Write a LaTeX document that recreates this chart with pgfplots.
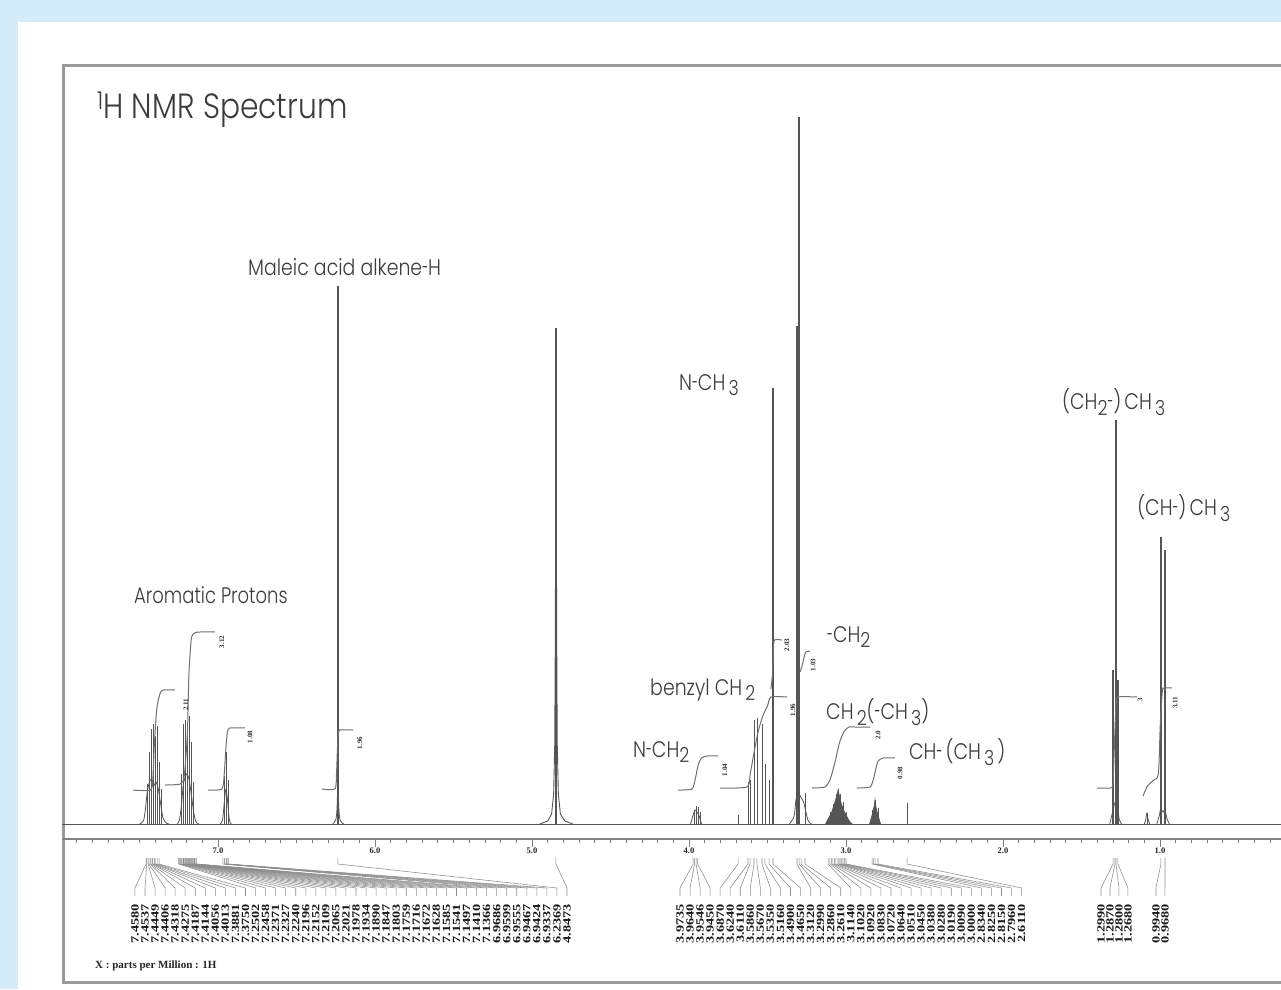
\documentclass[border=0pt]{standalone}
\usepackage{pgfplots}
\pgfplotsset{compat=1.18}
\usepackage{fontspec}
\setmainfont{Poppins Light}
\newfontfamily\pickfont{Liberation Serif}
\definecolor{bgblue}{HTML}{D3ECF8}
\definecolor{ink}{HTML}{3C3C3C}
\definecolor{trace}{HTML}{555555}
\definecolor{intg}{HTML}{707070}
\definecolor{fan}{HTML}{8C8C8C}
\definecolor{framegray}{HTML}{9A9A9A}
\newcommand\sub[1]{\raisebox{-0.42ex}{\scalebox{0.92}{#1}}}
\newcommand\hy{\scalebox{0.6}[1]{-}}
\newcommand\pk[1]{\scalebox{1.3}[1]{#1}}
\newcommand\lab[1]{\scalebox{0.84}[1]{#1}}
\tikzset{
  lbl/.style={anchor=west, text=ink, font=\fontsize{22.5}{22.5}\selectfont, inner sep=0pt},
  intlbl/.style={rotate=90, text=black!80, font=\pickfont\bfseries\fontsize{7}{7}\selectfont, inner sep=0pt},
  picklbl/.style={rotate=90, anchor=east, text=black!90, font=\pickfont\bfseries\fontsize{11}{11}\selectfont, inner sep=0pt},
  fanline/.style={fan, line width=0.55pt},
}
\begin{document}
\begin{tikzpicture}
% page: background, white panel and the spectrum frame
\useasboundingbox (-62pt,-5pt) rectangle (1219pt,984pt);
\fill[bgblue] (-62pt,-5pt) rectangle (1219pt,984pt);
\fill[white] (-44pt,-5pt) rectangle (1219pt,962pt);
\draw[framegray, line width=3pt] (1230pt,918pt) -- (2pt,918pt) -- (2pt,2pt) -- (1230pt,2pt);

% ppm ruler
\begin{axis}[at={(0,145pt)}, anchor=south west, scale only axis,
  width=1219pt, height=10pt, xmin=0.2293, xmax=7.9936, ymin=0, ymax=1,
  x dir=reverse, axis x line=bottom, axis y line=none,
  axis line style={-, draw=framegray!85!black, line width=2.4pt},
  xtick={1,2,3,4,5,6,7}, xticklabels={1.0,2.0,3.0,4.0,5.0,6.0,7.0},
  minor xtick={0.3,0.4,...,7.95},
  tick align=outside, major tick length=8pt, minor tick length=3.5pt,
  tick style={draw=gray, line width=0.7pt},
  xticklabel style={font=\pickfont\bfseries\fontsize{8.5}{8.5}\selectfont, text=black!85, inner sep=1pt}]
\addplot[draw=none] coordinates {(1,0)};
\end{axis}

\begin{axis}[at={(0,0)}, anchor=south west, scale only axis,
  width=1219pt, height=918pt, xmin=0.2293, xmax=7.9936, ymin=-160, ymax=758,
  x dir=reverse, axis lines=none, clip=false]

% baseline
\addplot[trace, line width=0.9pt] coordinates {(7.9936,0) (0.2293,0)};

% strong resonance lines: position (ppm) and height
\addplot[trace, line width=1.2pt, ycomb] table {
ppm h
6.236 538
4.847 496
3.465 436
3.312 498
3.299 707
1.299 154
1.280 404
1.268 144
0.994 287
0.968 274
};
% weak resonance lines
\addplot[trace, line width=0.75pt, ycomb] table {
ppm h
7.452 40
7.439 72
7.427 95
7.414 100
7.401 88
7.389 98
7.376 62
7.363 35
7.236 50
7.223 100
7.210 104
7.197 92
7.185 108
7.172 82
7.159 42
6.962 48
6.949 72
6.936 44
3.968 14
3.955 18
3.943 17
3.930 12
3.688 9
3.624 42
3.611 44
3.586 104
3.567 106
3.535 100
3.516 60
3.490 44
3.261 31
3.102 12
3.083 20
3.064 30
3.051 35
3.038 30
3.019 22
3.000 12
2.834 14
2.815 24
2.796 16
2.611 21
1.083 11
};

% line shapes at the base of the multiplets
\addplot[trace, line width=0.8pt, smooth, tension=0.5] coordinates {(7.50,0)(7.475,3)(7.462,15)(7.452,30)(7.44,40)(7.425,45)(7.41,38)(7.395,42)(7.38,35)(7.365,20)(7.35,6)(7.33,1)(7.31,0)};
\addplot[trace, line width=0.8pt, smooth, tension=0.5] coordinates {(7.26,0)(7.245,4)(7.232,20)(7.22,40)(7.20,50)(7.185,45)(7.17,30)(7.155,12)(7.14,2)(7.12,0)};
\addplot[trace, line width=0.8pt, smooth, tension=0.5] coordinates {(6.985,0)(6.97,5)(6.958,25)(6.949,35)(6.94,25)(6.928,5)(6.915,0)};
\addplot[trace, line width=0.8pt, smooth, tension=0.5] coordinates {(6.27,0)(6.25,4)(6.242,15)(6.236,40)(6.23,15)(6.222,4)(6.20,0)};
\addplot[trace, line width=0.9pt] coordinates {(4.95,0)(4.90,3)(4.875,10)(4.862,30)(4.855,80)(4.851,200)(4.847,496)(4.843,200)(4.839,80)(4.832,30)(4.819,10)(4.79,3)(4.74,0)};
\addplot[trace, line width=0.8pt, smooth, tension=0.5] coordinates {(3.99,0)(3.975,8)(3.962,14)(3.95,12)(3.935,8)(3.92,0)};
\addplot[trace, line width=0.8pt, smooth, tension=0.5] coordinates {(3.36,0)(3.33,8)(3.318,25)(3.30,30)(3.285,26)(3.27,22)(3.255,12)(3.24,3)(3.22,0)};
\addplot[trace, fill=trace, line width=0.8pt] coordinates {(3.13,0)(3.11,6)(3.09,12)(3.07,22)(3.055,30)(3.05,34)(3.045,30)(3.03,20)(3.01,12)(2.99,6)(2.975,2)(2.96,0)};
\addplot[trace, fill=trace, line width=0.8pt] coordinates {(2.85,0)(2.835,8)(2.82,18)(2.815,24)(2.808,16)(2.795,8)(2.78,0)};
\addplot[trace, line width=0.8pt, smooth, tension=0.5] coordinates {(1.32,0)(1.305,10)(1.29,20)(1.28,22)(1.27,18)(1.26,5)(1.245,0)};
\addplot[trace, line width=0.8pt, smooth, tension=0.5] coordinates {(1.10,0)(1.09,5)(1.083,11)(1.076,5)(1.065,0)};
\addplot[trace, line width=0.8pt, smooth, tension=0.5] coordinates {(1.02,0)(1.005,8)(0.995,15)(0.98,12)(0.968,14)(0.955,5)(0.94,0)};

% integral curves
\addplot[intg, line width=1pt, smooth, tension=0.4] coordinates {(7.541,34)(7.43,34)(7.415,45)(7.405,80)(7.39,115)(7.37,130)(7.35,134)(7.274,134)};
\addplot[intg, line width=1pt, smooth, tension=0.4] coordinates {(7.338,39)(7.24,40)(7.215,48)(7.195,90)(7.185,150)(7.17,185)(7.15,191)(7.115,192)(7.019,192)};
\addplot[intg, line width=1pt, smooth, tension=0.4] coordinates {(7.064,34)(6.975,35)(6.96,50)(6.95,75)(6.94,92)(6.924,96)(6.828,96)};
\addplot[intg, line width=1pt, smooth, tension=0.4] coordinates {(6.338,35)(6.255,35)(6.245,50)(6.238,80)(6.23,93)(6.215,94)(6.140,94)};
\addplot[intg, line width=1pt, smooth, tension=0.4] coordinates {(4.070,34)(3.981,35)(3.96,45)(3.94,60)(3.92,66)(3.885,68)(3.815,68)};
\addplot[intg, line width=1pt, smooth, tension=0.4] coordinates {(3.803,36)(3.631,37)(3.61,50)(3.585,72)(3.56,92)(3.53,108)(3.50,118)(3.478,127)(3.376,127)};
\addplot[intg, line width=1pt, smooth, tension=0.4] coordinates {(3.478,135)(3.468,150)(3.462,175)(3.455,184)(3.408,184)};
\addplot[intg, line width=1pt, smooth, tension=0.4] coordinates {(3.293,152)(3.28,158)(3.265,168)(3.255,172)(3.229,173)};
\addplot[intg, line width=1pt, smooth, tension=0.4] coordinates {(3.217,36)(3.134,37)(3.10,45)(3.07,62)(3.04,82)(3.01,93)(2.98,97)(2.943,97)(2.847,97)};
\addplot[intg, line width=1pt, smooth, tension=0.4] coordinates {(2.930,36)(2.847,37)(2.825,45)(2.81,55)(2.795,63)(2.764,66)(2.688,66)};
\addplot[intg, line width=1pt, smooth, tension=0.4] coordinates {(1.401,36)(1.318,36)(1.30,40)(1.29,80)(1.28,120)(1.268,127)(1.146,127)};
\addplot[intg, line width=1pt, smooth, tension=0.4] coordinates {(1.108,28)(1.08,38)(1.04,44)(1.01,50)(0.998,100)(0.985,133)(0.975,136)(0.924,136)};

% integral values
\node[intlbl] at (axis cs:7.204,119) {2.11};
\node[intlbl] at (axis cs:6.975,182) {3.12};
\node[intlbl] at (axis cs:6.796,87) {1.08};
\node[intlbl] at (axis cs:6.096,81) {1.96};
\node[intlbl] at (axis cs:3.771,54) {1.04};
\node[intlbl] at (axis cs:3.338,114) {1.96};
\node[intlbl] at (axis cs:3.376,179) {2.03};
\node[intlbl] at (axis cs:3.210,159) {1.03};
\node[intlbl] at (axis cs:2.796,89) {2.0};
\node[intlbl] at (axis cs:2.656,51) {0.98};
\node[intlbl] at (axis cs:1.127,124) {3};
\node[intlbl] at (axis cs:0.904,121) {3.11};

% peak picking: leader lines and shift values
\foreach \v [count=\i from 0] in {7.4580,7.4537,7.4449,7.4406,7.4318,7.4275,7.4187,7.4144,7.4056,7.4013,7.3881,7.3750,7.2502,7.2458,7.2371,7.2327,7.2240,7.2196,7.2152,7.2109,7.2065,7.2021,7.1978,7.1934,7.1890,7.1847,7.1803,7.1759,7.1716,7.1672,7.1628,7.1585,7.1541,7.1497,7.1410,7.1366,6.9686,6.9599,6.9555,6.9467,6.9424,6.9337,6.2369,4.8473}{%
  \pgfmathsetmacro\c{7.5287-0.0640*\i}%
  \edef\tmp{\noexpand\draw[fanline] (axis cs:\v,-34) -- (axis cs:\v,-40) -- (axis cs:\c,-64) -- (axis cs:\c,-72);
    \noexpand\node[picklbl] at (axis cs:\c,-80) {\noexpand\pk{\v}};}%
  \tmp}
\foreach \v [count=\i from 0] in {3.9735,3.9640,3.9546,3.9450,3.6870,3.6240,3.6110,3.5860,3.5670,3.5350,3.5160,3.4900,3.4650,3.3120,3.2990,3.2860,3.2610,3.1140,3.1020,3.0920,3.0830,3.0720,3.0640,3.0510,3.0450,3.0380,3.0280,3.0190,3.0090,3.0000,2.8340,2.8250,2.8150,2.7960,2.6110}{%
  \pgfmathsetmacro\c{4.0573-0.0640*\i}%
  \edef\tmp{\noexpand\draw[fanline] (axis cs:\v,-34) -- (axis cs:\v,-40) -- (axis cs:\c,-64) -- (axis cs:\c,-72);
    \noexpand\node[picklbl] at (axis cs:\c,-80) {\noexpand\pk{\v}};}%
  \tmp}
\foreach \v [count=\i from 0] in {1.2990,1.2870,1.2800,1.2680}{%
  \pgfmathsetmacro\c{1.3758-0.0573*\i}%
  \edef\tmp{\noexpand\draw[fanline] (axis cs:\v,-34) -- (axis cs:\v,-40) -- (axis cs:\c,-64) -- (axis cs:\c,-72);
    \noexpand\node[picklbl] at (axis cs:\c,-80) {\noexpand\pk{\v}};}%
  \tmp}
\foreach \v [count=\i from 0] in {0.9940,0.9680}{%
  \pgfmathsetmacro\c{1.0255-0.0573*\i}%
  \edef\tmp{\noexpand\draw[fanline] (axis cs:\v,-34) -- (axis cs:\v,-40) -- (axis cs:\c,-64) -- (axis cs:\c,-72);
    \noexpand\node[picklbl] at (axis cs:\c,-80) {\noexpand\pk{\v}};}%
  \tmp}

% titles and assignments
\node[anchor=west, text=ink, font=\fontsize{35}{35}\selectfont, inner sep=0pt] at (axis cs:7.771,714) {\scalebox{0.85}[1]{\textsuperscript{1}H NMR Spectrum}};
\node[lbl] at (axis cs:6.809,557) {\lab{Maleic acid alkene\hy H}};
\node[lbl] at (axis cs:7.535,229) {\scalebox{0.8}[1]{Aromatic Protons}};
\node[lbl] at (axis cs:4.064,439) {\lab{N\hy CH\,\sub{3}}};
\node[lbl] at (axis cs:1.624,422) {\lab{(CH\sub{2}\hy)\,CH\,\sub{3}}};
\node[lbl] at (axis cs:1.146,316) {\lab{(CH\hy)\,CH\,\sub{3}}};
\node[lbl] at (axis cs:3.121,187) {\lab{\hy CH\sub{2}}};
\node[lbl] at (axis cs:4.248,134) {\lab{benzyl CH\,\sub{2}}};
\node[lbl] at (axis cs:3.127,112) {\lab{CH\,\sub{2}(\hy CH\,\sub{3})}};
\node[lbl] at (axis cs:4.357,72) {\lab{N\hy CH\sub{2}}};
\node[lbl] at (axis cs:2.599,72) {\lab{CH\hy\,(CH\,\sub{3}\,)}};
\node[anchor=west, text=black!85, font=\pickfont\bfseries\fontsize{11}{11}\selectfont, inner sep=0pt] at (axis cs:7.783,-142) {X : parts per Million : 1H};
\end{axis}
\end{tikzpicture}
\end{document}
